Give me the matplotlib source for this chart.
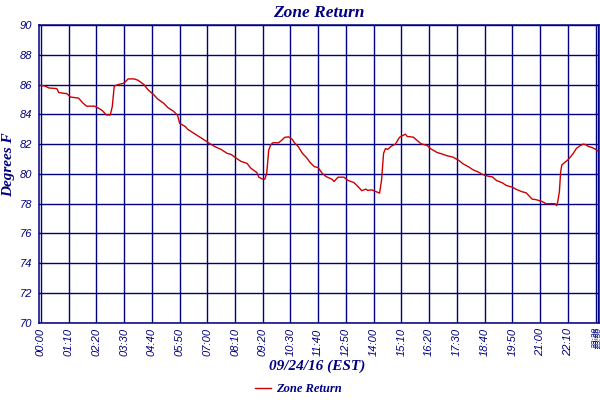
#!/usr/bin/env python3
"""Zone Return temperature trend, 09/24/16."""

import matplotlib
matplotlib.use("Agg")
import matplotlib.pyplot as plt

NAVY = "#000080"
RED = "#cc0000"

# minutes after midnight, degrees F
minutes = [
    0, 10, 20, 40, 45, 65, 75, 95, 105, 115, 135, 145, 155, 165, 175,
    180, 185, 195, 210, 220, 235, 245, 260, 270, 285, 295, 310, 320,
    335, 345, 350, 365, 370, 400, 420, 425, 440, 455, 470, 480, 490,
    505, 520, 530, 545, 550, 560, 565, 570, 575, 580, 585, 600, 610,
    615, 625, 635, 640, 650, 660, 670, 680, 690, 700, 710, 720, 735,
    740, 750, 765, 775, 790, 800, 810, 820, 825, 835, 845, 855, 860,
    865, 870, 875, 885, 895, 905, 920, 925, 940, 950, 960, 975, 985,
    1000, 1010, 1025, 1040, 1055, 1065, 1080, 1090, 1105, 1115, 1130,
    1140, 1150, 1165, 1175, 1190, 1200, 1215, 1225, 1240, 1250, 1265,
    1275, 1298, 1302, 1305, 1309, 1312, 1315, 1323, 1332, 1344, 1352,
    1361, 1369, 1376, 1382, 1391, 1399, 1407,
]
zone_return = [
    85.94, 85.90, 85.77, 85.73, 85.46, 85.39, 85.16, 85.09, 84.78, 84.55,
    84.55, 84.42, 84.25, 83.96, 83.96, 84.52, 85.90, 86.00, 86.10, 86.38,
    86.38, 86.29, 86.00, 85.66, 85.31, 85.02, 84.74, 84.46, 84.20, 83.93,
    83.40, 83.17, 83.00, 82.49, 82.15, 82.05, 81.82, 81.64, 81.38, 81.31,
    81.11, 80.84, 80.71, 80.38, 80.09, 79.78, 79.64, 79.64, 80.04, 81.60,
    81.93, 82.09, 82.09, 82.31, 82.45, 82.49, 82.31, 82.09, 81.82, 81.38,
    81.11, 80.75, 80.49, 80.42, 80.04, 79.82, 79.64, 79.49, 79.78, 79.78,
    79.56, 79.42, 79.16, 78.87, 78.98, 78.89, 78.93, 78.82, 78.71, 79.60,
    81.38, 81.71, 81.64, 81.87, 82.00, 82.45, 82.67, 82.51, 82.47, 82.24,
    82.02, 81.91, 81.67, 81.44, 81.36, 81.22, 81.13, 80.91, 80.69, 80.47,
    80.29, 80.11, 79.96, 79.84, 79.80, 79.56, 79.40, 79.22, 79.11, 78.96,
    78.80, 78.73, 78.31, 78.27, 78.15, 78.00, 78.00, 77.87, 78.15, 78.82,
    80.09, 80.60, 80.78, 80.98, 81.38, 81.71, 81.89, 82.00, 81.96, 81.84,
    81.78, 81.67, 81.53,
]

tick_minutes = list(range(0, 1331, 70)) + [1401, 1406, 1410]
tick_labels = [f"{m // 60:02d}:{m % 60:02d}" for m in range(0, 1331, 70)] + [
    "23:20", "23:25", "23:30"
]
y_ticks = list(range(70, 91, 2))

serif = {"family": "Liberation Serif", "weight": "bold", "style": "italic", "color": NAVY}

fig = plt.figure(figsize=(6, 4), dpi=100)
ax = fig.add_axes([0.065, 0.193, 0.934, 0.7445])

ax.plot(minutes, zone_return, color=RED, linewidth=1.0, label="Zone Return")

ax.set_xlim(-5, 1410)
ax.set_ylim(70, 90)
ax.set_xticks(tick_minutes)
ax.set_xticklabels(tick_labels, rotation=90)
ax.set_yticks(y_ticks)
ax.grid(True, color=NAVY, linewidth=1.0)
ax.set_axisbelow(True)
for sp in ax.spines.values():
    sp.set_color(NAVY)
    sp.set_linewidth(1.1)
ax.tick_params(length=0, colors=NAVY, labelsize=8)
ax.tick_params(axis="x", pad=4)
ax.tick_params(axis="y", pad=5)
for lab in ax.get_xticklabels() + ax.get_yticklabels():
    lab.set_family("Liberation Sans")
    lab.set_style("italic")
# the three end-of-day labels sit on top of each other, as in the original
for lab in ax.get_xticklabels()[-3:]:
    lab.set_fontsize(6)

ax.set_title("Zone Return", fontsize=12.5, pad=6, **serif)
fig.text(0.528, 0.085, "09/24/16 (EST)", ha="center", va="center", fontsize=11, **serif)
fig.text(0.015, 0.5875, "Degrees F", ha="center", va="center", rotation=90,
         fontsize=11, **serif)

leg = fig.legend(loc="center", bbox_to_anchor=(0.497, 0.027), frameon=False,
                 handlelength=1.3, handletextpad=0.4,
                 prop={"family": "Liberation Serif", "weight": "bold",
                       "style": "italic", "size": 9})
for t in leg.get_texts():
    t.set_color(NAVY)

fig.savefig("out.png", dpi=100)
